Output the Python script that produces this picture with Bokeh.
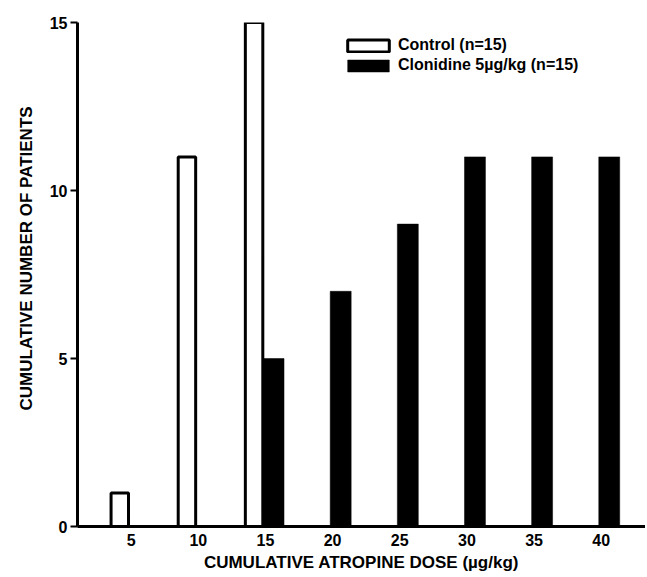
from bokeh.plotting import figure
from bokeh.models import ColumnDataSource, FixedTicker, Legend, LegendItem, Title
from bokeh.transform import dodge
from bokeh.embed import file_html
from bokeh.resources import INLINE

# Data
dose_ticks = [5, 10, 15, 20, 25, 30, 35, 40]
control_doses = [5, 10, 15]
control_counts = [1, 11, 15]
clonidine_doses = [15, 20, 25, 30, 35, 40]
clonidine_counts = [5, 7, 9, 11, 11, 11]
y_ticks = [0, 5, 10, 15]

FONT = "Liberation Sans"

src_c = ColumnDataSource(dict(dose=control_doses, count=control_counts))
src_k = ColumnDataSource(dict(dose=clonidine_doses, count=clonidine_counts))

p = figure(width=645, height=575, x_range=(1.0, 43.3), y_range=(0, 15),
           output_backend="svg", toolbar_location=None,
           min_border_left=77, min_border_right=0, min_border_top=22, min_border_bottom=49)
p.grid.visible = False
p.outline_line_color = None
p.background_fill_color = "white"

r_k = p.vbar(x=dodge('dose', 0.6), width=1.56, top='count', bottom=0, source=src_k,
             fill_color="black", line_color="black", line_width=0.5)
r_c = p.vbar(x=dodge('dose', -0.85), width=1.3, top='count', bottom=0, source=src_c,
             fill_color="white", line_color="black", line_width=3)

# axes
xa = p.xaxis[0]
xa.ticker = FixedTicker(ticks=dose_ticks)
xa.major_tick_line_color = None
xa.minor_tick_line_color = None
xa.major_tick_out = 0
xa.major_tick_in = 0
xa.axis_line_width = 3
xa.major_label_standoff = 7
xa.major_label_text_font = FONT
xa.major_label_text_font_style = "bold"
xa.major_label_text_font_size = "16px"
xa.major_label_text_color = "black"
xa.axis_label = "CUMULATIVE ATROPINE DOSE (µg/kg)"
xa.axis_label_text_font = FONT
xa.axis_label_text_font_style = "bold"
xa.axis_label_text_font_size = "17px"
xa.axis_label_text_color = "black"
xa.axis_label_standoff = 4

ya = p.yaxis[0]
ya.ticker = FixedTicker(ticks=y_ticks)
ya.minor_tick_line_color = None
ya.major_tick_out = 7
ya.major_tick_in = 0
ya.major_tick_line_width = 2
ya.axis_line_width = 3
ya.major_label_standoff = 3
ya.major_label_text_font = FONT
ya.major_label_text_font_style = "bold"
ya.major_label_text_font_size = "16px"
ya.major_label_text_color = "black"

ytitle = Title(text="CUMULATIVE NUMBER OF PATIENTS", align="left", offset=116,
               text_font=FONT, text_font_style="bold", text_font_size="17px",
               text_color="black", standoff=22)
p.add_layout(ytitle, "left")

common = dict(orientation="vertical", border_line_color=None, background_fill_alpha=0,
              padding=0, margin=0, spacing=0, glyph_width=52, glyph_height=15,
              label_height=15, label_standoff=4, label_text_font=FONT,
              label_text_font_style="bold", label_text_font_size="16px",
              label_text_color="black")
leg1 = Legend(items=[LegendItem(label="Control (n=15)", renderers=[r_c])],
              location=(265, 472), **common)
leg2 = Legend(items=[LegendItem(label="Clonidine 5µg/kg (n=15)", renderers=[r_k])],
              location=(265, 452), **common)
p.add_layout(leg1)
p.add_layout(leg2)

open("out.html", "w").write(file_html(p, INLINE))
